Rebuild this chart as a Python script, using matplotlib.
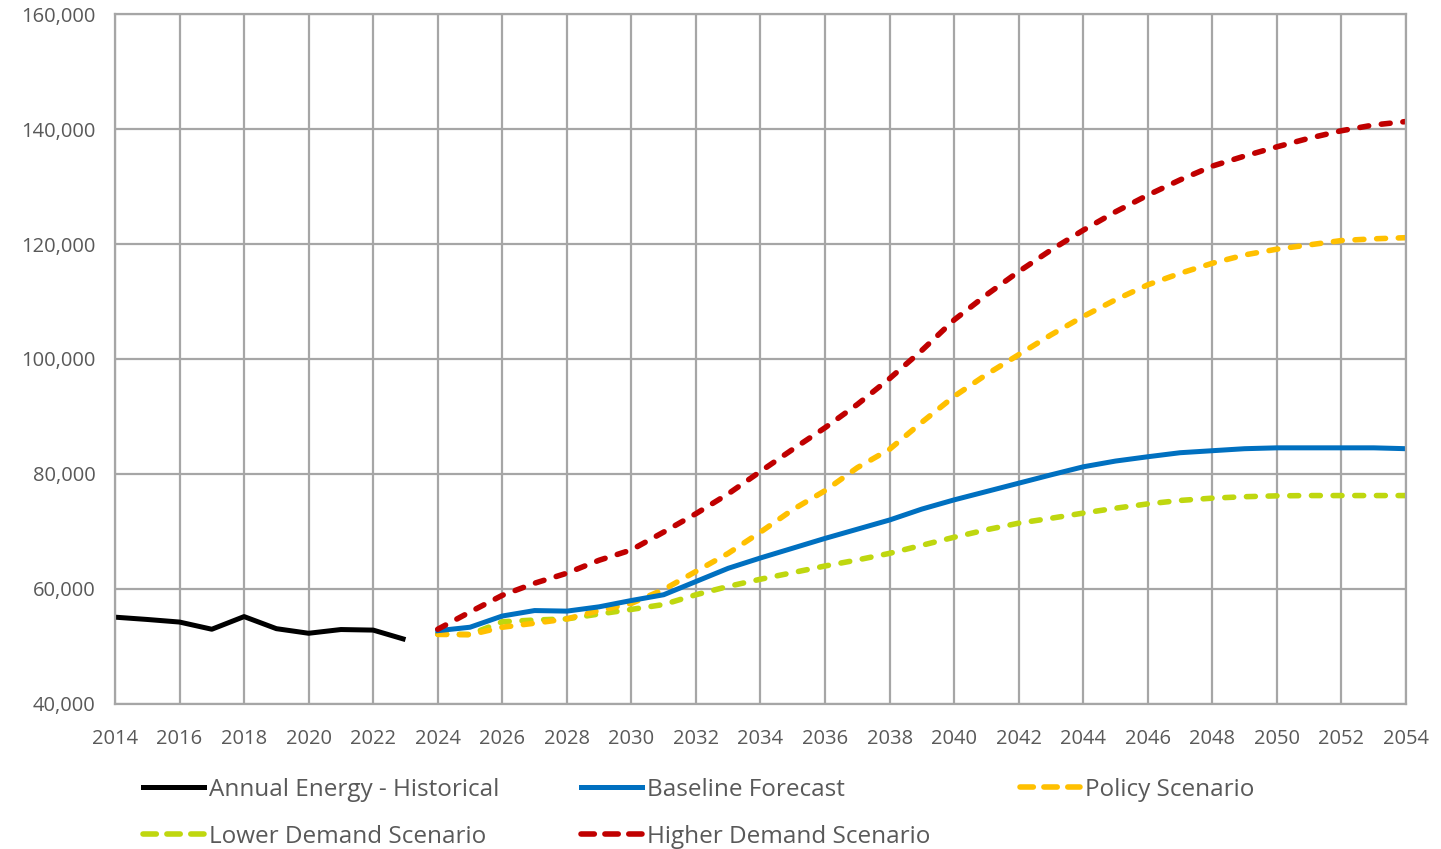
import matplotlib.pyplot as plt
from matplotlib.lines import Line2D
from matplotlib.ticker import FuncFormatter, MultipleLocator

# historical data
hist_years = list(range(2014, 2024))
hist_energy = [55100, 54700, 54250, 53000, 55200, 53100, 52300, 52950, 52850, 51200]

# forecast scenarios
fc_years = list(range(2024, 2055))
baseline = [52750, 53350, 55300, 56250, 56150, 56900, 58000, 59000, 61300, 63600,
            65400, 67100, 68800, 70400, 72000, 73900, 75500, 76950, 78400, 79850,
            81250, 82250, 83000, 83700, 84050, 84400, 84550, 84550, 84550, 84550, 84400]
policy = [52100, 52050, 53350, 54050, 54800, 56250, 57500, 59900, 63050, 66200,
          69900, 73800, 77100, 81100, 84300, 89000, 93500, 97300, 100750, 104200,
          107400, 110300, 112900, 114900, 116650, 118100, 119100, 119850, 120600, 120900, 121100]
lower = [52150, 52100, 54300, 54600, 54800, 55650, 56450, 57300, 59000, 60450,
         61700, 62850, 64000, 65050, 66200, 67600, 69000, 70300, 71450, 72300,
         73200, 74050, 74800, 75400, 75800, 76050, 76200, 76250, 76250, 76250, 76250]
higher = [53000, 56000, 58900, 61000, 62750, 65000, 66800, 69900, 73100, 76550,
          80450, 84300, 88050, 92100, 96600, 101500, 106800, 111150, 115200, 118950,
          122400, 125600, 128500, 131150, 133550, 135300, 136900, 138400, 139700, 140700, 141300]

BLACK = '#000000'
BLUE = '#0070C0'
YELLOW = '#FFC000'
GREEN = '#BFD70F'
RED = '#C00000'
GRID = '#A6A6A6'
TEXT = '#595959'

plt.rcParams['font.family'] = ['Open Sans', 'DejaVu Sans']

fig = plt.figure(figsize=(14.41, 8.49), dpi=100)
ax = fig.add_axes([0.0798, 0.1708, 0.8959, 0.8127])

dash = (1.6, 2.3)
ax.plot(hist_years, hist_energy, color=BLACK, lw=3.6, solid_capstyle='butt')
ax.plot(fc_years, lower, color=GREEN, lw=4, dashes=dash, dash_capstyle='round')
ax.plot(fc_years, policy, color=YELLOW, lw=4, dashes=dash, dash_capstyle='round')
ax.plot(fc_years, baseline, color=BLUE, lw=3.6)
ax.plot(fc_years, higher, color=RED, lw=4, dashes=dash, dash_capstyle='round')

ax.set_xlim(2014, 2054)
ax.set_ylim(40000, 160000)
ax.xaxis.set_major_locator(MultipleLocator(2))
ax.yaxis.set_major_locator(MultipleLocator(20000))
ax.yaxis.set_major_formatter(FuncFormatter(lambda v, p: f'{int(v):,}'))
ax.grid(True, color=GRID, lw=1.6)
ax.set_axisbelow(True)
for s in ax.spines.values():
    s.set_color(GRID)
    s.set_linewidth(1.6)
ax.tick_params(length=0, labelsize=14.5, labelcolor=TEXT)
ax.tick_params(axis='x', pad=18)
ax.tick_params(axis='y', pad=14)

# legend laid out in three columns, row-major like the original
entries = [
    [('Annual Energy - Historical', BLACK, False), ('Lower Demand Scenario', GREEN, True)],
    [('Baseline Forecast', BLUE, False), ('Higher Demand Scenario', RED, True)],
    [('Policy Scenario', YELLOW, True)],
]
col_x = [0.0995, 0.4035, 0.7075]
for x, col in zip(col_x, entries):
    handles = []
    labels = []
    for lab, c, dashed in col:
        if dashed:
            h = Line2D([], [], color=c, lw=4, dashes=(2.4, 1.9), dash_capstyle='round')
        else:
            h = Line2D([], [], color=c, lw=3.6)
        handles.append(h)
        labels.append(lab)
    leg = fig.legend(handles, labels, loc='upper left', bbox_to_anchor=(x, 0.084),
                     frameon=False, fontsize=17.5, handlelength=2.5, handletextpad=0.2,
                     labelspacing=0.95, borderpad=0, borderaxespad=0)
    for t in leg.get_texts():
        t.set_color(TEXT)

fig.savefig('out.png', dpi=100)
